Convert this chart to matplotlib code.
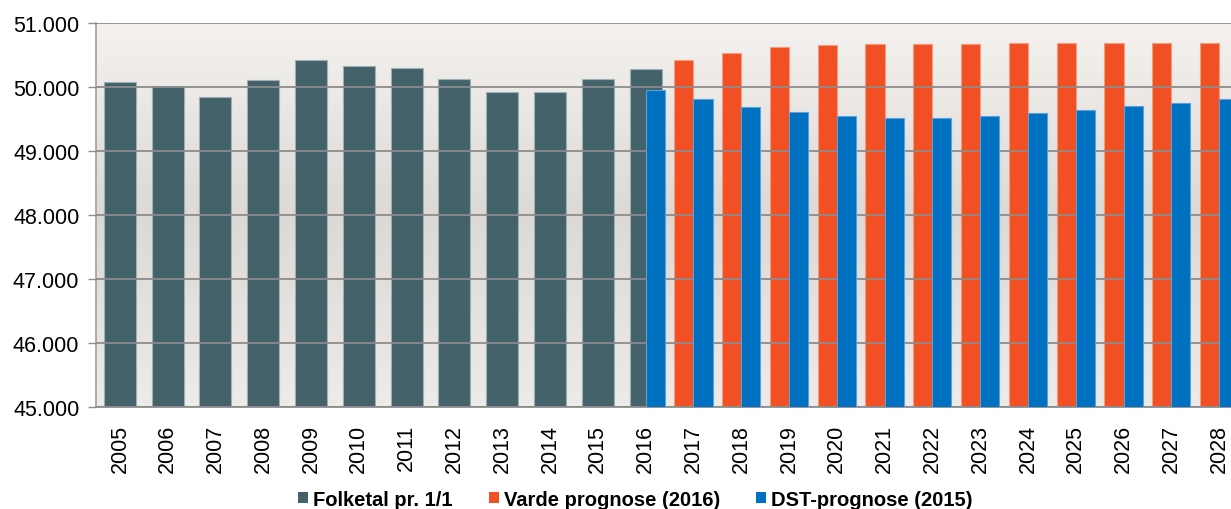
import matplotlib.pyplot as plt
from matplotlib.patches import Patch
from matplotlib.ticker import FuncFormatter
import numpy as np

years = [str(y) for y in range(2005, 2029)]

# Folketal pr. 1/1 (2005-2016)
folketal = [50073, 50020, 49840, 50104, 50415, 50332, 50300,
            50120, 49922, 49922, 50120, 50285]
# Varde prognose (2016), 2017-2028
varde = [50415, 50530, 50628, 50650, 50665, 50665, 50665,
         50680, 50680, 50695, 50695, 50695]
# DST-prognose (2015), 2016-2028
dst = [49953, 49808, 49688, 49605, 49543, 49512, 49512, 49543,
       49590, 49642, 49709, 49755, 49808]

plt.rcParams['font.family'] = ['Liberation Sans', 'DejaVu Sans']

fig = plt.figure(figsize=(12.31, 5.10), dpi=100)
ax = fig.add_axes([96 / 1231, 102 / 510, 1147 / 1231, 384 / 510])

# gradient background
grad = np.concatenate([np.linspace(0, 1, 50), np.linspace(1, 0.3, 50)])
top = np.array([0.957, 0.949, 0.941])
mid = np.array([0.867, 0.851, 0.835])
cols = top[None, :] * (1 - grad[:, None]) + mid[None, :] * grad[:, None]
ax.imshow(cols[:, None, :], extent=[-0.5, 23.5, 45000, 51000], aspect='auto',
          zorder=0, origin='upper')

x = np.arange(len(years))
ax.bar(x[:12], folketal, width=0.67, color='#44626a', edgecolor='#9fb0b4',
       linewidth=0.8, zorder=2)
ax.bar(x[12:] - 0.2, varde, width=0.4, color='#f05023', edgecolor='#f69a7c',
       linewidth=0.8, zorder=2)
ax.bar(x[11:] + 0.2, dst, width=0.4, color='#0070c0', edgecolor='#5d9fd6',
       linewidth=0.8, zorder=3)

ax.set_xlim(-0.5, 23.5)
ax.set_ylim(45000, 51000)
ax.set_yticks(range(45000, 51001, 1000))
ax.yaxis.set_major_formatter(FuncFormatter(lambda v, p: f'{int(v):,}'.replace(',', '.')))
ax.grid(axis='y', color='#8c8c8c', linewidth=1.3, zorder=1)
ax.set_axisbelow(False)
for line in ax.get_ygridlines():
    line.set_zorder(1)

ax.set_xticks(x)
ax.set_xticklabels(years, rotation=90, fontsize=15.5)
ax.tick_params(axis='x', length=0, pad=12)
ax.tick_params(axis='y', length=6, width=1, color='#8c8c8c', labelsize=15.5, pad=6)

for s in ['top', 'right']:
    ax.spines[s].set_visible(False)
ax.spines['left'].set_color('#a6a6a6')
ax.spines['left'].set_linewidth(1.3)
ax.spines['bottom'].set_color('#8c8c8c')
ax.spines['bottom'].set_linewidth(1.3)

handles = [Patch(facecolor='#44626a', label='Folketal pr. 1/1'),
           Patch(facecolor='#f05023', label='Varde prognose (2016)'),
           Patch(facecolor='#0070c0', label='DST-prognose (2015)')]
fig.legend(handles=handles, loc='center', bbox_to_anchor=(0.516, 0.019), ncol=3,
           frameon=False, prop={'weight': 'bold', 'size': 14.5},
           handlelength=0.5, handleheight=0.5, handletextpad=0.25,
           columnspacing=1.8)

fig.savefig('out.png', dpi=100)
